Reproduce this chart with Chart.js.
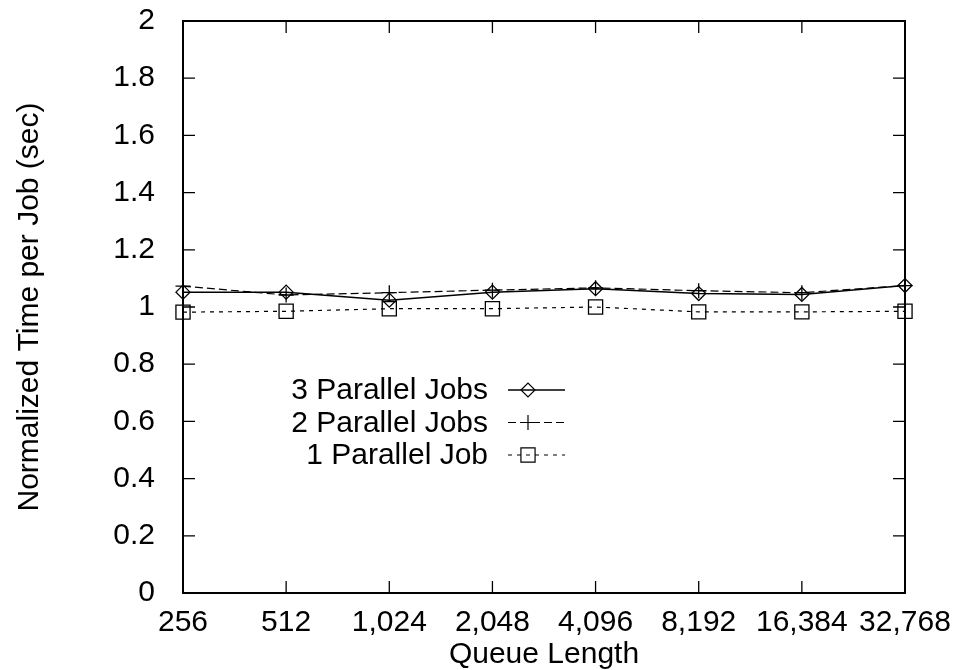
<!DOCTYPE html>
<html>
<head>
<meta charset="utf-8">
<script src="https://cdn.jsdelivr.net/npm/chart.js@4/dist/chart.umd.min.js"></script>
<style>
  html, body { margin: 0; padding: 0; background: #fff; }
  #wrap { width: 958px; height: 670px; }
</style>
</head>
<body>
<div id="wrap"><canvas id="lineChart1"></canvas></div>
<script>
// data
var queueLengths = ["256", "512", "1,024", "2,048", "4,096", "8,192", "16,384", "32,768"];
var threeJobs = [1.052, 1.052, 1.024, 1.052, 1.064, 1.047, 1.044, 1.075];
var twoJobs   = [1.073, 1.042, 1.050, 1.059, 1.067, 1.057, 1.050, 1.075];
var oneJob    = [0.982, 0.985, 0.994, 0.994, 1.000, 0.983, 0.983, 0.985];
var yTicks = [0, 0.2, 0.4, 0.6, 0.8, 1, 1.2, 1.4, 1.6, 1.8, 2];

var FONT = "'Liberation Sans', Arial, Helvetica, sans-serif";

var dataThree = {
  label: "3 Parallel Jobs",
  data: threeJobs,
  borderColor: '#000',
  borderWidth: 1.5,
  backgroundColor: 'transparent',
  pointStyle: 'rectRot',
  pointRadius: 7,
  pointBorderColor: '#000',
  pointBorderWidth: 1.3,
  pointBackgroundColor: 'transparent',
  tension: 0,
  fill: false,
  clip: false
};

var dataTwo = {
  label: "2 Parallel Jobs",
  data: twoJobs,
  borderColor: '#000',
  borderWidth: 1.2,
  borderDash: [8, 4],
  backgroundColor: 'transparent',
  pointStyle: 'cross',
  pointRadius: 7.5,
  pointBorderColor: '#000',
  pointBorderWidth: 1.3,
  tension: 0,
  fill: false,
  clip: false
};

var dataOne = {
  label: "1 Parallel Job",
  data: oneJob,
  borderColor: '#000',
  borderWidth: 1.2,
  borderDash: [4, 5],
  backgroundColor: 'transparent',
  pointStyle: 'rect',
  pointRadius: 10,
  pointBorderColor: '#000',
  pointBorderWidth: 1.3,
  pointBackgroundColor: 'transparent',
  tension: 0,
  fill: false,
  clip: false
};

// gnuplot-like frame, inward ticks and key
var frame = {
  id: 'frame',
  afterDatasetsDraw: function(chart) {
    var ctx = chart.ctx, a = chart.chartArea;
    var xs = chart.scales.x, ys = chart.scales.y;
    var tl = 12;
    ctx.save();
    ctx.strokeStyle = '#000';
    ctx.lineWidth = 2;
    ctx.setLineDash([]);
    ctx.strokeRect(a.left, a.top, a.right - a.left, a.bottom - a.top);
    ctx.lineWidth = 1.3;
    ctx.beginPath();
    yTicks.forEach(function(v) {
      var y = ys.getPixelForValue(v);
      ctx.moveTo(a.left, y); ctx.lineTo(a.left + tl, y);
      ctx.moveTo(a.right, y); ctx.lineTo(a.right - tl, y);
    });
    queueLengths.forEach(function(c, i) {
      var x = xs.getPixelForValue(i);
      ctx.moveTo(x, a.bottom); ctx.lineTo(x, a.bottom - tl);
      ctx.moveTo(x, a.top); ctx.lineTo(x, a.top + tl);
    });
    ctx.stroke();

    // key
    var rows = [dataThree, dataTwo, dataOne];
    var textX = 488, lineL = 508, lineR = 565, markX = 528;
    ctx.font = '30px ' + FONT;
    ctx.textAlign = 'right';
    ctx.textBaseline = 'middle';
    rows.forEach(function(ds, i) {
      var y = a.top + 369 + i * 32.5;
      ctx.fillStyle = '#000';
      ctx.fillText(ds.label, textX, y + 1);
      ctx.lineWidth = ds.borderWidth;
      ctx.setLineDash(ds.borderDash || []);
      ctx.beginPath();
      ctx.moveTo(lineL, y); ctx.lineTo(lineR, y);
      ctx.stroke();
      ctx.setLineDash([]);
      ctx.lineWidth = 1.2;
      ctx.fillStyle = 'rgba(0,0,0,0)';
      Chart.helpers.drawPoint(ctx, { pointStyle: ds.pointStyle, radius: ds.pointRadius, rotation: 0, borderWidth: 1.2 }, markX, y);
    });
    ctx.restore();
  }
};

var lineChart = new Chart(document.getElementById("lineChart1"), {
  type: 'line',
  data: {
    labels: queueLengths,
    datasets: [dataThree, dataTwo, dataOne]
  },
  options: {
    responsive: true,
    maintainAspectRatio: false,
    animation: false,
    layout: { padding: { left: 0, top: 21, right: 53, bottom: 0 } },
    plugins: { legend: { display: false }, tooltip: { enabled: false } },
    scales: {
      x: {
        offset: false,
        grid: { display: false },
        border: { display: false },
        ticks: { color: '#000', font: { family: FONT, size: 30 }, padding: 4, maxRotation: 0, autoSkip: false },
        title: { display: true, text: 'Queue Length', color: '#000', font: { family: FONT, size: 30 }, padding: { top: 0, bottom: -3 } },
        afterFit: function(s) { s.height = 77; s.paddingLeft = 0; s.paddingRight = 0; }
      },
      y: {
        min: 0,
        max: 2,
        grid: { display: false },
        border: { display: false },
        afterBuildTicks: function(s) { s.ticks = yTicks.map(function(v) { return { value: v }; }); },
        ticks: {
          color: '#000',
          font: { family: FONT, size: 30 },
          padding: 20,
          callback: function(v) { return String(Number(v.toFixed(1))); }
        },
        title: { display: true, text: 'Normalized Time per Job (sec)', color: '#000', font: { family: FONT, size: 30 }, padding: { top: 12, bottom: 0 } },
        afterFit: function(s) { s.width = 183; s.paddingTop = 0; s.paddingBottom = 0; }
      }
    }
  },
  plugins: [frame]
});
</script>
</body>
</html>
